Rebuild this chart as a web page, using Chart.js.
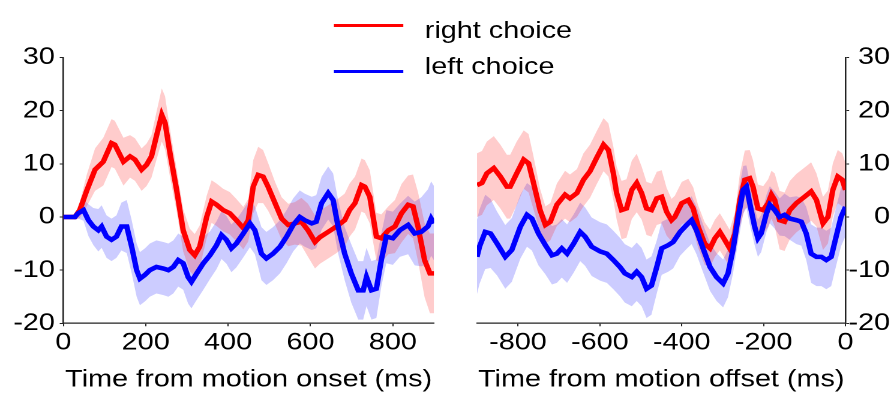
<!DOCTYPE html>
<html>
<head>
<meta charset="utf-8">
<script src="https://cdn.jsdelivr.net/npm/chart.js@4.4.1/dist/chart.umd.min.js"></script>
<style>
  html, body { margin: 0; padding: 0; background: #fff; overflow: hidden; }
  /* the source figure is stretched sideways, so the whole stage is too */
  #stage { position: absolute; left: 0; top: 0; width: 745px; height: 396px;
           transform: scaleX(1.2); transform-origin: 0 0; }
  .panel { position: absolute; top: 0; height: 396px; }
  #panelOnset { left: 0; width: 372px; }
  #panelOffset { left: 372px; width: 373px; }
  .legLine { position: absolute; height: 3px; }
  .legText { position: absolute; font-family: "Liberation Sans", Arial, sans-serif;
             font-size: 24px; line-height: 24px; color: #000; white-space: nowrap; }
</style>
</head>
<body>
<div id="stage">
  <div class="panel" id="panelOnset"><canvas id="onsetChart"></canvas></div>
  <div class="panel" id="panelOffset"><canvas id="offsetChart"></canvas></div>
  <div id="legend"></div>
</div>
<script>
// series names / colours
const seriesNames = ["right choice", "left choice"];
const seriesColors = ["#ff0000", "#0000ff"];
const bandColors = ["rgba(255,0,0,0.2)", "rgba(0,0,255,0.2)"];

// axis ticks
const onsetTicks = [0, 200, 400, 600, 800];
const offsetTicks = [-800, -600, -400, -200, 0];
const yTicks = [-20, -10, 0, 10, 20, 30];

// left panel, aligned to motion onset (ms) -- right choice
const onsetTimeRight = [0,28,40,57,77,97,117,125,146,162,174,190,202,214,226,239,247,259,275,291,307,319,331,348,360,372,388,404,420,437,449,461,473,485,497,514,530,546,562,578,594,611,623,643,663,683,695,708,724,732,744,760,772,789,805,821,837,849,861,877,890,900];
const onsetMeanRight = [0,0,1.3,5,8.9,10.4,13.9,13.6,10.4,11.4,10.8,8.9,9.8,11.4,15.2,19.2,17.7,12,5.1,-2.5,-6.2,-7.2,-5.6,0,2.9,2.3,1.3,0.7,-0.6,-2.1,-0.6,5.7,7.9,7.6,5.7,2.6,-0.3,-1.5,-1.2,-0.9,-2.5,-4.7,-3.8,-2.8,-1.8,-0.6,1.3,2.6,6.0,5.7,3.8,-3.7,-4,-2.5,-1.8,0.7,2.3,2,-1.8,-8.1,-10.6,-10.6];
const onsetSemRight = [0.3,0.5,1.5,3,4,4.5,4.5,4.5,4.5,4,4,4,4,4,4.5,5,5,4.5,4,4,4,4,4,4,4,4,4,4,4,4,4,5,5.3,5,4.5,4,4,4,4,4.5,5,5,5,5,5,5,5,5,5,5,5,4.5,4.5,4.5,5,5.5,5.5,6,6.5,7,7.5,7.5];

// left panel -- left choice
const onsetTimeLeft = [0,28,36,49,61,73,85,93,105,117,129,141,154,166,178,186,198,210,226,243,255,267,279,291,303,311,324,340,356,372,384,396,408,420,437,453,465,481,493,509,526,542,558,574,586,603,614,627,643,655,667,683,699,716,728,736,748,760,772,784,800,817,837,853,869,885,893,900];
const onsetMeanLeft = [0,0,0.7,1.3,-0.6,-1.8,-2.5,-1.8,-3.7,-4.3,-3.7,-1.8,-1.8,-5.6,-10,-11.6,-10.9,-10,-9.4,-9.7,-10,-9.4,-8.1,-8.7,-11.3,-12.2,-10.6,-8.7,-7.2,-5.3,-3.4,-4.3,-5.9,-5,-3.1,-1.2,-2.5,-6.9,-7.8,-6.9,-5.6,-3.7,-1.5,0,-0.6,-1.2,-0.9,2.6,4.5,3.2,-1.8,-6.9,-10.6,-13.8,-13.8,-11.3,-13.8,-13.5,-8.1,-3.7,-4,-2.5,-1.5,-3.1,-2.8,-1.8,-0.3,-1.2];
const onsetSemLeft = [0.3,0.5,1,2,3,3.5,4,4,4,4,4,4.5,5,5,5,5,5,5,5,5,5,5,5,5,5,5,5,5,4.5,4.5,4.5,4.5,4.5,4.5,4.5,4.5,4.5,5,5,5,5,5,5,5,5,5,5,5,5,5,5,5,5.5,5.5,5.5,5.5,5.5,5.5,5,5,5,5,5.5,6,6.5,7,7,7];

// right panel, aligned to motion offset (ms) -- right choice
const offsetTimeRight = [-900,-888,-876,-859,-843,-827,-819,-803,-786,-774,-762,-746,-733,-721,-705,-685,-673,-656,-640,-624,-608,-591,-579,-567,-559,-547,-535,-522,-510,-498,-486,-474,-461,-449,-437,-425,-417,-400,-384,-372,-360,-344,-331,-319,-307,-295,-283,-270,-258,-246,-234,-226,-214,-201,-189,-181,-173,-161,-149,-136,-120,-100,-84,-71,-55,-43,-31,-19,-8,0];
const offsetMeanRight = [6.0,6.4,8.2,9.2,7.6,5.7,5.7,8.2,10.8,10.1,6.4,1.3,-1.5,-0.9,2.3,4.2,3.5,4.5,7,8.6,11.1,13.6,12.6,8.2,4.5,1.3,1.6,5.1,6.4,4.5,1.6,1.3,3.5,3.8,1.0,-0.6,0,2.6,3.2,1.6,-1.8,-5,-5.9,-4,-2.8,-4.3,-5.9,-3.1,3.2,7,7.3,5.7,1.6,1.3,2.6,4.2,3.2,-0.6,-0.9,1.3,2.6,3.8,4.8,3.2,-1.2,0,5.1,7.6,7,5.1];
const offsetSemRight = [6,6,6,6,6,6,6,6,5.5,5.5,5,4,3.5,3.5,4,4.5,4.5,4.5,5,5,5,5,5,5,5,5.5,5.5,5.5,5.5,5,5,5,5,5,4.5,4,4,4,4,4,4,4,3.5,3.5,3.5,3.5,3.5,4,5,5.5,5.3,5,4.5,4.5,4.5,4.5,5,5.5,5.5,5.5,5.5,5.5,5.5,5,5,5,5,5,5,5];

// right panel -- left choice
const offsetTimeLeft = [-900,-894,-880,-867,-851,-831,-815,-794,-778,-766,-750,-733,-717,-705,-693,-680,-664,-648,-636,-620,-599,-583,-567,-551,-539,-522,-510,-498,-486,-474,-461,-449,-433,-421,-404,-388,-376,-364,-348,-331,-315,-299,-287,-275,-262,-250,-242,-234,-222,-214,-206,-193,-185,-173,-161,-149,-136,-120,-108,-96,-84,-71,-59,-47,-35,-23,-11,0];
const offsetMeanLeft = [-7.5,-5.6,-2.8,-3.1,-5,-7.5,-6.2,-1.8,0.4,-0.3,-3.1,-5.3,-7.2,-6.9,-5.9,-6.9,-5,-2.8,-3.7,-5.6,-6.5,-6.9,-8.1,-9.4,-10.6,-11.3,-10.3,-11.3,-13.5,-12.9,-9.4,-5.9,-5.3,-4.7,-2.8,-1.5,-0.6,-2.5,-5.9,-9.4,-11.3,-12.5,-10.6,-6.2,0,5.1,5.7,2.6,-1.8,-4,-3.1,0.7,2.3,1.3,0,0.4,-0.3,-0.6,-0.9,-3.1,-6.9,-7.5,-7.5,-8.1,-7.5,-3.7,0,1.9];
const offsetSemLeft = [7,7,7,6.5,6,6,6,6,6,6,6,5.5,5.5,5.5,5.5,5.5,5.5,5.5,5.5,5.5,5.5,5.5,5.5,5.5,5.5,5.5,5.5,5.5,5.5,5.5,5,5,5,5,4.5,4.5,4.5,4.5,4.5,4.5,4.5,4.5,4.5,4.5,4.5,4.5,4,4,3.5,3.5,3.5,3.5,3.5,3.5,3.5,4,4,4.5,4.5,5,5.5,5.5,5.5,5.5,5.5,5.5,5.5,5.5];

const fontSpec = { family: '"Liberation Sans", Arial, sans-serif', size: 24 };
const axisColor = '#222';

function pts(t, v, sem, sign) {
    return t.map((x, i) => ({ x: x, y: v[i] + sign * (sem ? sem[i] : 0) }));
}

// datasets: the two mean lines on top, shaded mean +/- sem bands behind
function buildDatasets(tR, mR, eR, tL, mL, eL) {
    const line = (label, data, color) => ({
        label: label, data: data, borderColor: color, borderWidth: 4.5,
        pointRadius: 0, fill: false, tension: 0
    });
    const edge = (data, fill, bg) => ({
        data: data, borderColor: 'transparent', borderWidth: 0,
        pointRadius: 0, backgroundColor: bg, fill: fill, tension: 0
    });
    return [
        line(seriesNames[1], pts(tL, mL, null, 0), seriesColors[1]),
        line(seriesNames[0], pts(tR, mR, null, 0), seriesColors[0]),
        edge(pts(tR, mR, eR, 1), '+1', bandColors[0]),
        edge(pts(tR, mR, eR, -1), false, bandColors[0]),
        edge(pts(tL, mL, eL, 1), '+1', bandColors[1]),
        edge(pts(tL, mL, eL, -1), false, bandColors[1])
    ];
}

function setTicks(list) {
    return function(scale) { scale.ticks = list.map(v => ({ value: v })); };
}

function makeOptions(cfg) {
    return {
        responsive: true,
        maintainAspectRatio: false,
        animation: false,
        devicePixelRatio: 2,
        layout: { padding: cfg.padding },
        plugins: { legend: { display: false }, tooltip: { enabled: false } },
        scales: {
            x: {
                type: 'linear', min: cfg.xMin, max: cfg.xMax,
                afterBuildTicks: setTicks(cfg.xTicks),
                afterFit: function(scale) { scale.height = 72.7; },
                ticks: { font: fontSpec, color: '#000', padding: 2, maxRotation: 0, autoSkip: false },
                grid: { drawOnChartArea: false, drawTicks: true, tickLength: 3, tickColor: axisColor },
                border: { display: true, color: axisColor, width: 1.3 },
                title: { display: true, text: cfg.xTitle, font: fontSpec, color: '#000',
                         padding: { top: 0, bottom: 1.6 } }
            },
            y: {
                type: 'linear', position: cfg.yPos, min: -20, max: 30,
                afterBuildTicks: setTicks(yTicks),
                afterFit: function(scale) { scale.width = cfg.yWidth; },
                ticks: { display: cfg.yLabels, font: fontSpec, color: '#000', padding: 4 },
                grid: { drawOnChartArea: false, drawTicks: true, tickLength: 3, tickColor: axisColor },
                border: { display: true, color: axisColor, width: 1.3 }
            }
        }
    };
}

// right-hand y labels: right-aligned against the outer edge, like the figure
const rightAxisLabels = {
    id: 'rightAxisLabels',
    afterDraw(chart) {
        const scale = chart.scales.y;
        const ctx = chart.ctx;
        ctx.save();
        ctx.font = '24px "Liberation Sans", Arial, sans-serif';
        ctx.fillStyle = '#000';
        ctx.textAlign = 'right';
        ctx.textBaseline = 'middle';
        yTicks.forEach(v => ctx.fillText(String(v), scale.right, scale.getPixelForValue(v)));
        ctx.restore();
    }
};

new Chart(document.getElementById('onsetChart'), {
    type: 'line',
    data: { datasets: buildDatasets(onsetTimeRight, onsetMeanRight, onsetSemRight,
                                    onsetTimeLeft, onsetMeanLeft, onsetSemLeft) },
    options: makeOptions({
        padding: { top: 57.5, right: 10.3, left: 0, bottom: 0 },
        xMin: 0, xMax: 900, xTicks: onsetTicks, xTitle: 'Time from motion onset (ms)',
        yPos: 'left', yWidth: 52.75, yLabels: true
    })
});

new Chart(document.getElementById('offsetChart'), {
    type: 'line',
    data: { datasets: buildDatasets(offsetTimeRight, offsetMeanRight, offsetSemRight,
                                    offsetTimeLeft, offsetMeanLeft, offsetSemLeft) },
    options: makeOptions({
        padding: { top: 57.5, right: 3.3, left: 25.5, bottom: 0 },
        xMin: -900, xMax: 0, xTicks: offsetTicks, xTitle: 'Time from motion offset (ms)',
        yPos: 'right', yWidth: 37.1, yLabels: false
    }),
    plugins: [rightAxisLabels]
});

// legend: short line + label for each series
const legend = document.getElementById('legend');
const legLineY = [25, 71];
const legTextTop = [17.7, 53.7];
seriesNames.forEach(function(name, i) {
    const ln = document.createElement('div');
    ln.className = 'legLine';
    ln.style.left = '278.3px';
    ln.style.width = '57.3px';
    ln.style.top = (legLineY[i] - 1.5) + 'px';
    ln.style.background = seriesColors[i];
    legend.appendChild(ln);
    const tx = document.createElement('div');
    tx.className = 'legText';
    tx.style.left = '354px';
    tx.style.top = legTextTop[i] + 'px';
    tx.textContent = name;
    legend.appendChild(tx);
});
</script>
</body>
</html>
